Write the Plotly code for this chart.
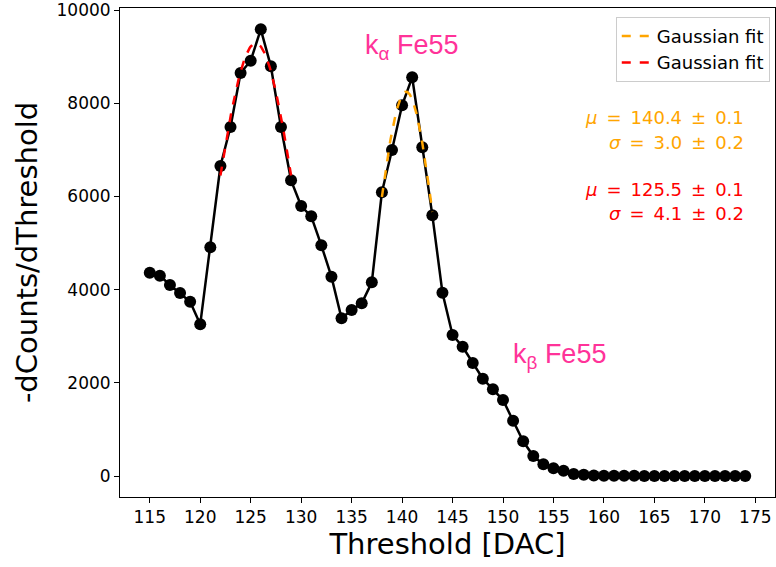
import numpy as np
import plotly.graph_objects as go

threshold = list(range(115, 175))
dcounts = [4363, 4300, 4099, 3927, 3740, 3255, 4908, 6652, 7489, 8648,
           8912, 9585, 8792, 7489, 6345, 5794, 5573, 4950, 4277, 3384,
           3562, 3706, 4157, 6088, 6996, 7955, 8556, 7053, 5594, 3934,
           3026, 2775, 2425, 2089, 1860, 1631, 1187, 745, 429, 251,
           165, 114, 43, 25, 12, 6, 5, 4, 4, 3,
           3, 3, 2, 2, 2, 2, 2, 2, 2, 2]

x_ticks = list(range(115, 176, 5))
y_ticks = [0, 2000, 4000, 6000, 8000, 10000]
y_ticktext = [str(v) for v in y_ticks]

# Gaussian fit parameters (as displayed)
fit_a = dict(amp=8247, mu=140.4, sigma=3.0, lo=138, hi=143, color="orange")
fit_b = dict(amp=9285, mu=125.5, sigma=4.1, lo=122, hi=129, color="red")

fig = go.Figure()
fig.add_trace(go.Scatter(x=threshold, y=dcounts, mode="lines+markers",
                         line=dict(color="black", width=2.5),
                         marker=dict(color="black", size=12),
                         showlegend=False))
for f in (fit_a, fit_b):
    xs = np.linspace(f["lo"], f["hi"], 100)
    ys = f["amp"] * np.exp(-(xs - f["mu"]) ** 2 / (2 * f["sigma"] ** 2))
    fig.add_trace(go.Scatter(x=xs, y=ys, mode="lines", name="Gaussian fit",
                             line=dict(color=f["color"], width=2.5, dash="dash")))

font = "DejaVu Sans, sans-serif"
arial = "Liberation Sans, Arial, sans-serif"
pink = "#ff3399"
sp = "\u2002"
def mtxt(sym, val, err):
    return f"<i>{sym}</i>{sp}={sp}{val}{sp}±{sp}{err}"

annots = [
    dict(x=140.9, y=9206, xref="x", yref="y", text="k<sub>α</sub> Fe55",
         font=dict(size=27, color=pink, family=arial), showarrow=False),
    dict(x=155.6, y=2575, xref="x", yref="y", text="k<sub>β</sub> Fe55",
         font=dict(size=27, color=pink, family=arial), showarrow=False),
    dict(x=0.955, y=0.801, xref="paper", yref="paper", xanchor="right",
         text=mtxt("μ", "140.4", "0.1"), font=dict(size=18, color="orange"), showarrow=False),
    dict(x=0.955, y=0.750, xref="paper", yref="paper", xanchor="right",
         text=mtxt("σ", "3.0", "0.2"), font=dict(size=18, color="orange"), showarrow=False),
    dict(x=0.955, y=0.628, xref="paper", yref="paper", xanchor="right",
         text=mtxt("μ", "125.5", "0.1"), font=dict(size=18, color="red"), showarrow=False),
    dict(x=0.955, y=0.579, xref="paper", yref="paper", xanchor="right",
         text=mtxt("σ", "4.1", "0.2"), font=dict(size=18, color="red"), showarrow=False),
]

fig.update_layout(
    width=776, height=567,
    margin=dict(l=120, r=1, t=8, b=70),
    paper_bgcolor="white", plot_bgcolor="white",
    font=dict(family=font, size=17, color="black"),
    annotations=annots,
    legend=dict(x=0.992, y=0.982, xanchor="right", yanchor="top",
                bgcolor="white", bordercolor="#cccccc", borderwidth=1,
                font=dict(size=18), tracegroupgap=0),
    xaxis=dict(range=[112.05, 176.95], tickvals=x_ticks,
               showline=True, mirror=True, linecolor="black", linewidth=1,
               ticks="outside", ticklen=5, tickcolor="black", showgrid=False,
               zeroline=False, tickfont=dict(size=17),
               title=dict(text="Threshold [DAC]", font=dict(size=29), standoff=4)),
    yaxis=dict(range=[-450, 10043], tickvals=y_ticks, ticktext=y_ticktext,
               showline=True, mirror=True, linecolor="black", linewidth=1,
               ticks="outside", ticklen=5, tickcolor="black", showgrid=False,
               zeroline=False, tickfont=dict(size=17), ticklabeloverflow="allow",
               title=dict(text="-dCounts/dThreshold", font=dict(size=29), standoff=10)),
)

fig.write_html("out.html")
